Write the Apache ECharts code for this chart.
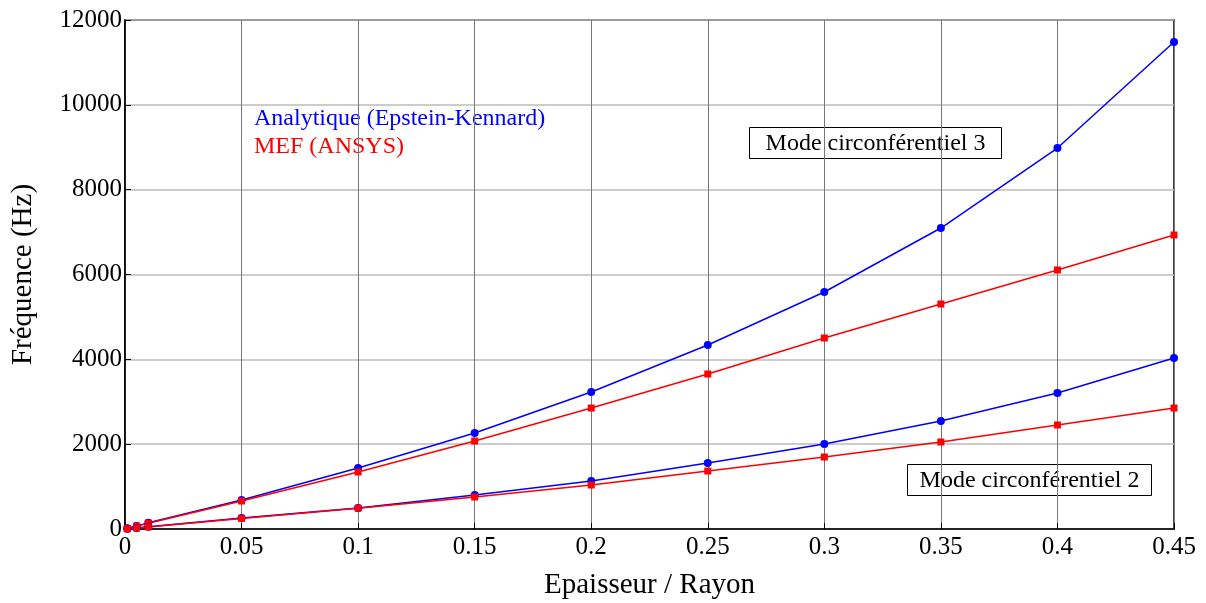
<!DOCTYPE html>
<html>
<head>
<meta charset="utf-8">
<script src="https://cdn.jsdelivr.net/npm/echarts@6/dist/echarts.min.js"></script>
<style>
  html, body { margin: 0; padding: 0; background: #fff; }
  #chart { width: 1206px; height: 603px; }
</style>
</head>
<body>
<div id="chart"></div>
<script>
// Epaisseur / Rayon
const ratios = [0.001, 0.005, 0.01, 0.05, 0.1, 0.15, 0.2, 0.25, 0.3, 0.35, 0.4, 0.45];

// Mode circonférentiel 3
const analytique3 = [15, 70, 145, 684, 1438, 2263, 3230, 4338, 5587, 7096, 8982, 11480];
const mef3 = [14, 68, 138, 660, 1344, 2074, 2852, 3654, 4503, 5304, 6106, 6931];

// Mode circonférentiel 2
const analytique2 = [5, 25, 52, 259, 495, 801, 1132, 1556, 2004, 2546, 3206, 4031];
const mef2 = [5, 25, 50, 250, 490, 754, 1037, 1367, 1697, 2051, 2452, 2852];

const font = 'Liberation Serif, Times New Roman, serif';

function pairs(vals) {
    return ratios.map((x, i) => [x, vals[i]]);
}

function lineSeries(name, vals, color, symbol, size) {
    return {
        name: name,
        type: 'line',
        data: pairs(vals),
        symbol: symbol,
        symbolSize: size,
        showSymbol: true,
        lineStyle: { color: color, width: 1.5 },
        itemStyle: { color: color },
        animation: false
    };
}

const chart = echarts.init(document.getElementById('chart'));

chart.setOption({
    backgroundColor: '#fff',
    animation: false,
    grid: {
        left: 125, right: 32, top: 20, bottom: 74,
        containLabel: false,
        outerBoundsMode: 'none',
        show: true, borderColor: '#000', borderWidth: 1.5
    },
    xAxis: {
        type: 'value',
        min: 0, max: 0.45, interval: 0.05,
        name: 'Epaisseur / Rayon',
        nameLocation: 'middle',
        nameGap: 42,
        nameTextStyle: { fontFamily: font, fontSize: 29, color: '#000' },
        axisLine: { lineStyle: { color: '#000', width: 1.5 } },
        axisTick: { inside: true, length: 6, lineStyle: { color: '#000' } },
        axisLabel: { fontFamily: font, fontSize: 25, color: '#000', margin: 6 },
        splitLine: { show: true, lineStyle: { color: '#777', width: 1 } }
    },
    yAxis: {
        type: 'value',
        min: 0, max: 12000, interval: 2000,
        name: 'Fréquence (Hz)',
        nameLocation: 'middle',
        nameGap: 87,
        nameTextStyle: { fontFamily: font, fontSize: 29, color: '#000' },
        axisLine: { show: true, lineStyle: { color: '#000', width: 1.5 } },
        axisTick: { show: true, inside: true, length: 6, lineStyle: { color: '#000' } },
        axisLabel: { fontFamily: font, fontSize: 25, color: '#000', margin: 3,
                     formatter: function(v) { return String(v); } },
        splitLine: { show: true, lineStyle: { color: '#bbb', width: 1.5 } }
    },
    series: [
        lineSeries('Analytique (Epstein-Kennard)', analytique3, '#0000ff', 'circle', 8),
        lineSeries('MEF (ANSYS)', mef3, '#ff0000', 'rect', 7),
        lineSeries('Analytique (Epstein-Kennard) m2', analytique2, '#0000ff', 'circle', 8),
        lineSeries('MEF (ANSYS) m2', mef2, '#ff0000', 'rect', 7)
    ],
    graphic: [
        {
            type: 'text', left: 254, top: 107,
            style: { text: 'Analytique (Epstein-Kennard)', fill: '#0000ff', font: '24px ' + font }
        },
        {
            type: 'text', left: 254, top: 135,
            style: { text: 'MEF (ANSYS)', fill: '#ff0000', font: '24px ' + font }
        },
        {
            type: 'group', left: 749, top: 127,
            children: [
                { type: 'rect', shape: { x: 0, y: 0, width: 252, height: 31 },
                  style: { fill: '#fff', stroke: '#000', lineWidth: 1 } },
                { type: 'text', x: 126, y: 16,
                  style: { text: 'Mode circonférentiel 3', fill: '#000', font: '24px ' + font,
                           textAlign: 'center', textVerticalAlign: 'middle' } }
            ]
        },
        {
            type: 'group', left: 907, top: 464,
            children: [
                { type: 'rect', shape: { x: 0, y: 0, width: 244, height: 31 },
                  style: { fill: '#fff', stroke: '#000', lineWidth: 1 } },
                { type: 'text', x: 122, y: 16,
                  style: { text: 'Mode circonférentiel 2', fill: '#000', font: '24px ' + font,
                           textAlign: 'center', textVerticalAlign: 'middle' } }
            ]
        }
    ]
});

window.addEventListener('resize', function() {
    chart.resize();
});
</script>
</body>
</html>
